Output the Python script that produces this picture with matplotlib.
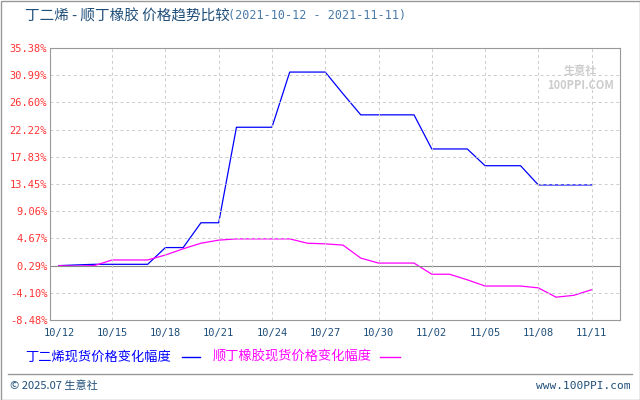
import matplotlib
matplotlib.use('Agg')
import matplotlib.pyplot as plt
import numpy as np

plt.rcParams['font.family'] = ['Noto Sans CJK SC', 'DejaVu Sans']

days = np.arange(31)
xlabels = ['10/12', '10/15', '10/18', '10/21', '10/24', '10/27', '10/30', '11/02', '11/05', '11/08', '11/11']
yticks = [35.38, 30.99, 26.60, 22.22, 17.83, 13.45, 9.06, 4.67, 0.29, -4.10, -8.48]

butadiene = [0.29, 0.4, 0.5, 0.5, 0.5, 0.5, 3.2, 3.2, 7.2, 7.2, 22.6,
             22.6, 22.6, 31.5, 31.5, 31.5, 28.0, 24.6, 24.6, 24.6, 24.6,
             19.1, 19.1, 19.1, 16.4, 16.4, 16.4, 13.3, 13.3, 13.3, 13.3]
rubber = [0.29, 0.2, 0.3, 1.2, 1.2, 1.2, 2.0, 3.0, 3.9, 4.4, 4.6,
          4.6, 4.6, 4.6, 3.9, 3.8, 3.6, 1.5, 0.7, 0.7, 0.7,
          -1.1, -1.1, -2.0, -3.0, -3.0, -3.0, -3.3, -4.8, -4.5, -3.6]

fig = plt.figure(figsize=(6.4, 4.0), dpi=100)
ax = fig.add_axes([50/640, 80/400, 570/640, 272/400])
ax.plot(days, butadiene, color='#0000ff', lw=0.9)
ax.plot(days, rubber, color='#ff00ff', lw=0.9)
ax.set_xlim(-0.5, 31.6)
ax.set_ylim(-8.48, 35.38)
ax.set_xticks(days[::3])
ax.set_xticklabels(xlabels, color='#1f4e79', fontsize=7.5, family='DejaVu Sans Mono')
ax.set_yticks(yticks)
ax.set_yticklabels([f'{v:.2f}%' for v in yticks], color='#ff3333', fontsize=7.5, family='DejaVu Sans Mono')
ax.tick_params(axis='x', length=0, pad=6)
ax.tick_params(axis='y', length=0, pad=2)
for v in yticks[1:-1]:
    if abs(v - 0.29) < 1e-6:
        ax.axhline(v, color='#888888', lw=0.8)
    else:
        ax.axhline(v, color='#cccccc', lw=0.7, ls=(0, (3, 3)))
for d in days[3::3]:
    ax.axvline(d, color='#cccccc', lw=0.7, ls=(0, (3, 3)))
for s in ax.spines.values():
    s.set_color('#999999')
ax.text(0.93, 0.89, '生意社\n100PPI.COM', transform=ax.transAxes, ha='center', va='center',
        color='#cccccc', fontsize=8, fontweight='bold')

fig.text(25/640, 1 - 16/400, '丁二烯 - 顺丁橡胶 价格趋势比较', color='#1f4e79', fontsize=10.5, va='center')
fig.text(228/640, 1 - 16/400, '(2021-10-12 - 2021-11-11)', color='#4a7aa8', fontsize=8.5,
         va='center', family='DejaVu Sans Mono')

fig.text(25/640, 1 - 357/400, '丁二烯现货价格变化幅度', color='#0000ff', fontsize=9.5, va='center')
fig.add_artist(plt.Line2D([182/640, 200/640], [1 - 357/400] * 2, color='#0000ff', lw=1))
fig.text(213/640, 1 - 357/400, '顺丁橡胶现货价格变化幅度', color='#ff00ff', fontsize=9.5, va='center')
fig.add_artist(plt.Line2D([380/640, 400/640], [1 - 357/400] * 2, color='#ff00ff', lw=1))

fig.add_artist(plt.Line2D([8/640, 632/640], [1 - 374/400] * 2, color='#999999', lw=1))
fig.text(10/640, 1 - 386/400, '© 2025.07 生意社', color='#1f4e79', fontsize=8, va='center')
fig.text(630/640, 1 - 386/400, 'www.100PPI.com', color='#1f4e79', fontsize=8, va='center', ha='right',
         family='DejaVu Sans Mono')
fig.add_artist(plt.Rectangle((0.5/640, 0.5/400), 639/640, 399/400, fill=False, ec='#999999', lw=1))

fig.savefig('out.png', dpi=100)
